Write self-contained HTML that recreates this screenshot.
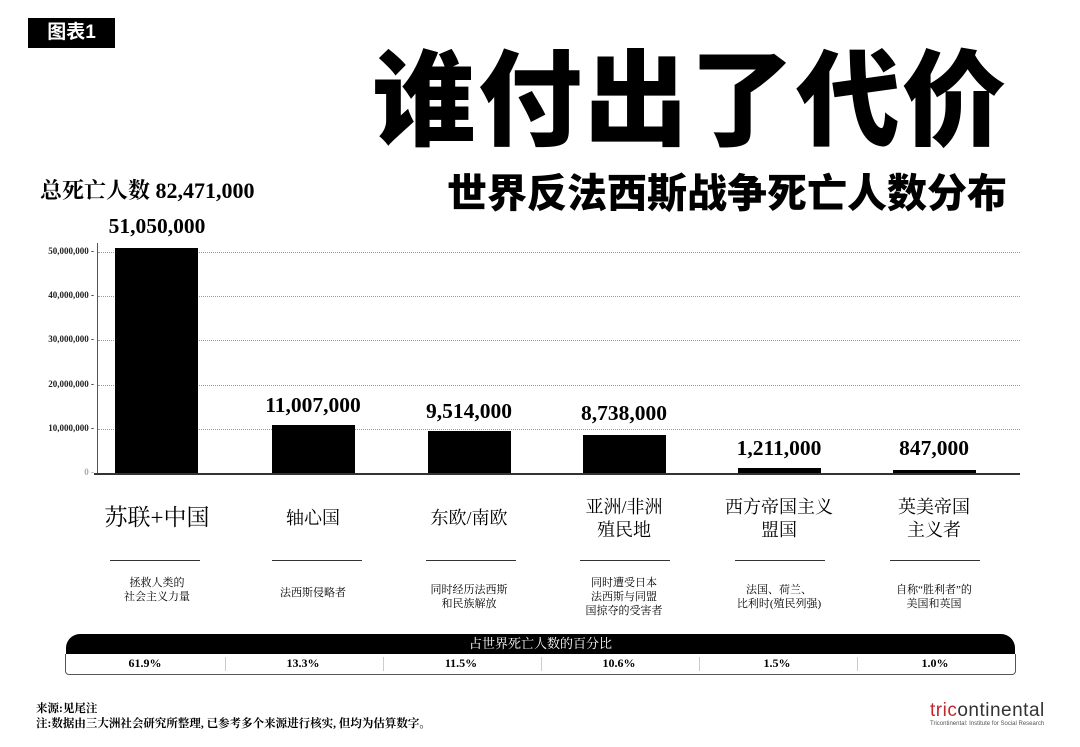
<!DOCTYPE html>
<html><head><meta charset="utf-8"><style>
body{margin:0;width:1080px;height:747px;background:#fff;position:relative;overflow:hidden;font-family:"Liberation Serif","Noto Serif CJK SC",serif;color:#000}
.a{position:absolute}
.sans{font-family:"Liberation Sans","Noto Sans CJK SC",sans-serif}
.bar{position:absolute;background:#000;width:83px}
.val{position:absolute;width:180px;text-align:center;font-weight:bold;font-size:21.5px}
.tick{position:absolute;right:986px;font-size:9px;font-weight:bold;color:#222;text-align:right;width:90px}
.grid{position:absolute;left:98px;width:922px;border-top:1px dotted #999}
.cat{position:absolute;width:180px;text-align:center;font-size:18px;line-height:23px}
.ln{position:absolute;width:90px;border-top:1px solid #333;top:560px}
.desc{position:absolute;width:180px;text-align:center;font-size:11px;line-height:14px;top:576px}
.pct{position:absolute;top:656px;width:158px;text-align:center;font-size:12px;font-weight:bold}
</style></head><body>
<div class="a sans" style="left:28px;top:18px;width:87px;height:30px;background:#000;color:#fff;font-weight:bold;font-size:19px;line-height:30px;text-align:center">图表1</div>
<div class="a sans" style="left:372px;top:42px;font-size:104px;font-weight:900;letter-spacing:2px;line-height:120px;white-space:nowrap">谁付出了代价</div>
<div class="a sans" style="left:447px;top:170px;font-size:40px;font-weight:900;line-height:48px;white-space:nowrap">世界反法西斯战争死亡人数分布</div>
<div class="a" style="left:40px;top:174px;font-size:22px;font-weight:bold;white-space:nowrap">总死亡人数 82,471,000</div>

<div class="grid" style="top:252px"></div><div class="grid" style="top:296px"></div><div class="grid" style="top:340px"></div><div class="grid" style="top:385px"></div><div class="grid" style="top:429px"></div>
<div class="tick" style="top:246px">50,000,000 -</div><div class="tick" style="top:290px">40,000,000 -</div><div class="tick" style="top:334px">30,000,000 -</div><div class="tick" style="top:379px">20,000,000 -</div><div class="tick" style="top:423px">10,000,000 -</div><div class="tick" style="top:467px;color:#aaa">0 -</div>
<div class="a" style="left:97px;top:243px;width:1px;height:231px;background:#555"></div>
<div class="a" style="left:94px;top:473px;width:926px;height:2px;background:#333"></div>

<div class="bar" style="left:115px;top:248px;height:225px"></div>
<div class="bar" style="left:272px;top:425px;height:48px"></div>
<div class="bar" style="left:428px;top:431px;height:42px"></div>
<div class="bar" style="left:583px;top:435px;height:38px"></div>
<div class="bar" style="left:738px;top:468px;height:5px"></div>
<div class="bar" style="left:893px;top:470px;height:3px"></div>
<div class="val" style="left:67px;top:214px">51,050,000</div>
<div class="val" style="left:223px;top:393px">11,007,000</div>
<div class="val" style="left:379px;top:399px">9,514,000</div>
<div class="val" style="left:534px;top:401px">8,738,000</div>
<div class="val" style="left:689px;top:436px">1,211,000</div>
<div class="val" style="left:844px;top:436px">847,000</div>

<div class="cat" style="left:67px;top:504px;font-size:23px;line-height:28px">苏联+中国</div>
<div class="cat" style="left:223px;top:507px">轴心国</div>
<div class="cat" style="left:379px;top:507px">东欧/南欧</div>
<div class="cat" style="left:534px;top:496px">亚洲/非洲<br>殖民地</div>
<div class="cat" style="left:689px;top:496px">西方帝国主义<br>盟国</div>
<div class="cat" style="left:844px;top:496px">英美帝国<br>主义者</div>
<div class="ln" style="left:110px"></div><div class="ln" style="left:272px"></div><div class="ln" style="left:426px"></div><div class="ln" style="left:580px"></div><div class="ln" style="left:735px"></div><div class="ln" style="left:890px"></div>
<div class="desc" style="left:67px">拯救人类的<br>社会主义力量</div>
<div class="desc" style="left:223px;top:586px">法西斯侵略者</div>
<div class="desc" style="left:379px;top:583px">同时经历法西斯<br>和民族解放</div>
<div class="desc" style="left:534px">同时遭受日本<br>法西斯与同盟<br>国掠夺的受害者</div>
<div class="desc" style="left:689px;top:583px">法国、荷兰、<br>比利时(殖民列强)</div>
<div class="desc" style="left:844px;top:583px">自称“胜利者”的<br>美国和英国</div>

<div class="a" style="left:66px;top:634px;width:949px;height:20px;background:#000;border-radius:14px 14px 0 0;color:#fff;font-size:13px;line-height:20px;text-align:center">占世界死亡人数的百分比</div>
<div class="a" style="left:65px;top:654px;width:949px;height:20px;border:1px solid #555;border-top:none;border-radius:0 0 4px 4px"></div>
<div class="pct" style="left:66px">61.9%</div><div class="pct" style="left:224px">13.3%</div><div class="pct" style="left:382px">11.5%</div><div class="pct" style="left:540px">10.6%</div><div class="pct" style="left:698px">1.5%</div><div class="pct" style="left:856px">1.0%</div>
<div class="a" style="left:225px;top:657px;width:1px;height:14px;background:#ccc"></div><div class="a" style="left:383px;top:657px;width:1px;height:14px;background:#ccc"></div><div class="a" style="left:541px;top:657px;width:1px;height:14px;background:#ccc"></div><div class="a" style="left:699px;top:657px;width:1px;height:14px;background:#ccc"></div><div class="a" style="left:857px;top:657px;width:1px;height:14px;background:#ccc"></div>

<div class="a" style="left:36px;top:702px;font-size:11.5px;line-height:15px;font-weight:bold">来源:见尾注<br>注:数据由三大洲社会研究所整理, 已参考多个来源进行核实, 但均为估算数字。</div>
<div class="a sans" style="left:930px;top:700px;font-size:19px;color:#333;letter-spacing:0.5px"><span style="color:#c0282d">tric</span>ontinental</div>
<div class="a sans" style="left:930px;top:721px;font-size:6px;color:#555">Tricontinental: Institute for Social Research</div>
</body></html>
